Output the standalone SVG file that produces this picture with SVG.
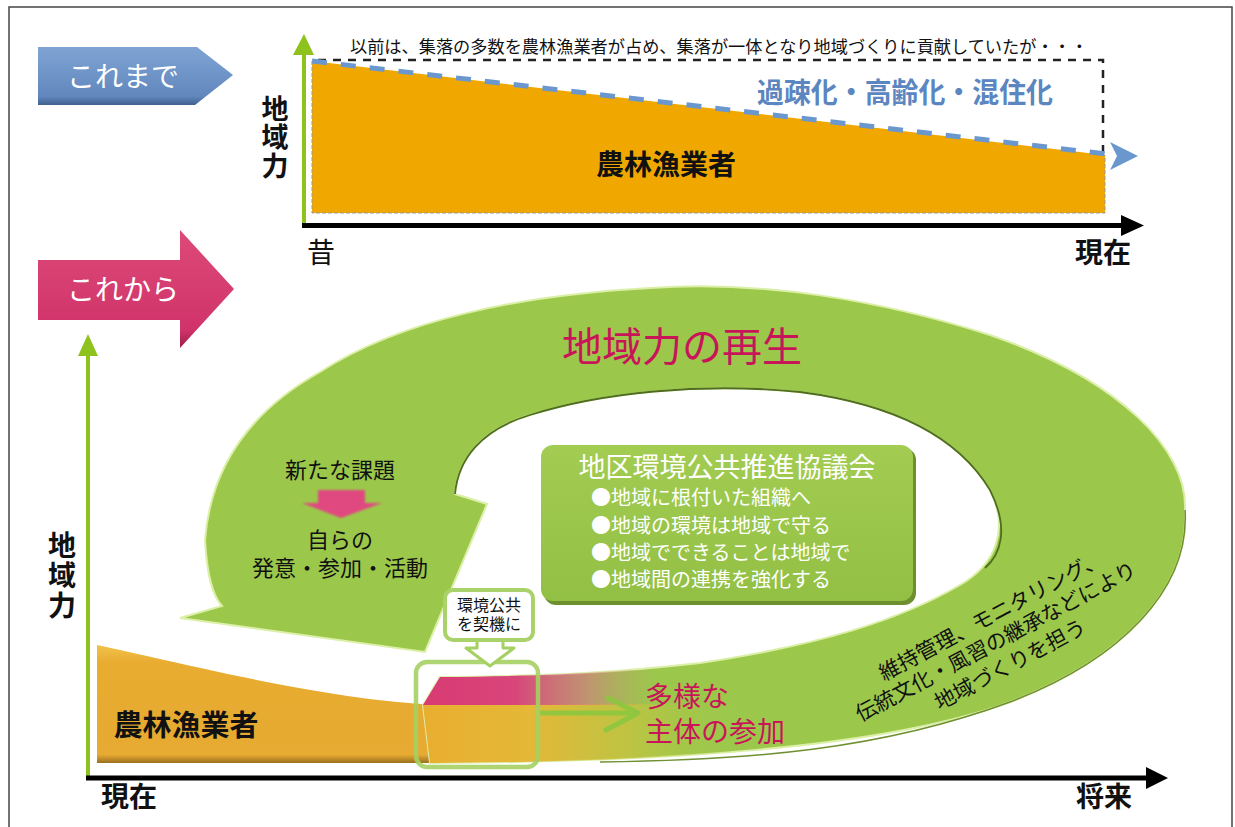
<svg xmlns="http://www.w3.org/2000/svg" width="1235" height="827" viewBox="0 0 1235 827">
<defs>
<style>
.jp{font-family:"Noto Sans CJK JP","Noto Sans CJK SC",sans-serif}
.b{font-weight:700}
.blk{fill:#111}
.wht{fill:#fff}
.mag{fill:#c8155a}
.vt{writing-mode:vertical-rl}
</style>
<linearGradient id="gBlue" x1="0" y1="0" x2="0" y2="1">
<stop offset="0" stop-color="#7fa4d3"/><stop offset="0.85" stop-color="#6287be"/><stop offset="1" stop-color="#3f628f"/>
</linearGradient>
<linearGradient id="gPink" x1="0" y1="0" x2="0" y2="1">
<stop offset="0" stop-color="#dd4a78"/><stop offset="0.85" stop-color="#d0336a"/><stop offset="1" stop-color="#9a2048"/>
</linearGradient>
<linearGradient id="gOrange" x1="0" y1="0" x2="0" y2="1">
<stop offset="0" stop-color="#f2c24a"/><stop offset="0.15" stop-color="#e8ac30"/><stop offset="0.93" stop-color="#e7aa32"/><stop offset="1" stop-color="#9a7020"/>
</linearGradient>
<linearGradient id="gYel" gradientUnits="userSpaceOnUse" x1="420" y1="0" x2="740" y2="0">
<stop offset="0" stop-color="#e9ae30"/><stop offset="0.35" stop-color="#e4b838"/><stop offset="0.65" stop-color="#c8c240" stop-opacity="0.8"/><stop offset="1" stop-color="#9cc84a" stop-opacity="0"/>
</linearGradient>
<linearGradient id="gPk" gradientUnits="userSpaceOnUse" x1="420" y1="0" x2="660" y2="0">
<stop offset="0" stop-color="#d83a72"/><stop offset="0.4" stop-color="#d8467a"/><stop offset="0.7" stop-color="#d8708a" stop-opacity="0.6"/><stop offset="1" stop-color="#c0a070" stop-opacity="0"/>
</linearGradient>
<linearGradient id="gBox" x1="0" y1="0" x2="0" y2="1">
<stop offset="0" stop-color="#a2cc52"/><stop offset="1" stop-color="#92c044"/>
</linearGradient>
<clipPath id="bandClip">
<path d="M430,763 C650,762 880,750 1010,702 C1120,660 1190,590 1185,510 L990,490 C1010,530 995,565 960,585 C900,620 820,645 700,663 C620,672 560,676 440,677 L423,705 Z"/>
</clipPath>
<filter id="soft" x="-10%" y="-10%" width="120%" height="120%"><feGaussianBlur stdDeviation="1"/></filter>
</defs>

<rect width="1235" height="827" fill="#fff"/>
<path d="M9,830 V7 H1232 V830" fill="none" stroke="#444" stroke-width="1.5"/>

<!-- Top section -->
<g id="korematde">
<path d="M38,47 H197 L233,75 L195,105 H38 Z" fill="url(#gBlue)"/>
<text class="jp wht" x="123" y="87" font-size="28" text-anchor="middle">これまで</text>
</g>

<g id="top-chart">
<path d="M312,61 L1105,155 V213 H312 Z" fill="#f0a800"/>
<path d="M312,61 V213 H1105 V155" fill="none" stroke="#999" stroke-width="1" stroke-dasharray="4,2"/>
<path d="M318,60 H1103 V158" fill="none" stroke="#222" stroke-width="2.5" stroke-dasharray="8,7"/>
<line x1="312" y1="61" x2="1115" y2="155" stroke="#6b97cf" stroke-width="5" stroke-dasharray="15,14"/>
<path d="M1110,142 L1138,156 L1110,170 L1117,156 Z" fill="#6b97cf"/>
<text class="jp blk" x="350" y="53" font-size="17" textLength="738" lengthAdjust="spacingAndGlyphs">以前は、集落の多数を農林漁業者が占め、集落が一体となり地域づくりに貢献していたが・・・</text>
<text class="jp b" x="757" y="103" font-size="28" fill="#5b86c0" textLength="296" lengthAdjust="spacingAndGlyphs">過疎化・高齢化・混住化</text>
<text class="jp b blk" x="666" y="175" font-size="28" text-anchor="middle">農林漁業者</text>
</g>

<g id="top-axes">
<line x1="304" y1="228" x2="304" y2="52" stroke="#8dc21f" stroke-width="4"/>
<path d="M293,55 L304,34 L314,55 Z" fill="#8dc21f"/>
<line x1="302" y1="225.5" x2="1125" y2="225.5" stroke="#000" stroke-width="5"/>
<path d="M1121,215 L1144,225.5 L1121,236 Z" fill="#000"/>
<text class="jp b blk vt" x="275" y="95" font-size="27" letter-spacing="1.5">地域力</text>
<text class="jp blk" x="321" y="263" font-size="28" text-anchor="middle">昔</text>
<text class="jp b blk" x="1103" y="263" font-size="28" text-anchor="middle">現在</text>
</g>

<!-- Bottom section -->
<g id="korekara">
<path d="M38,260 H180 V230 L234,289 L180,348 V320 H38 Z" fill="url(#gPink)"/>
<text class="jp wht" x="123" y="300" font-size="28" text-anchor="middle">これから</text>
</g>

<g id="base-orange">
<path d="M97,645 C170,660 320,700 440,705 L440,763 L97,763 Z" fill="url(#gOrange)"/>
<text class="jp b blk" x="186" y="736" font-size="29" text-anchor="middle">農林漁業者</text>
</g>

<g id="loop">
<path d="M430,763 C650,762 880,750 1010,702 C1120,660 1190,590 1185,510 C1188,450 1120,380 990,335 C880,300 760,280 650,288 C520,295 400,320 320,372 C270,400 212,450 205,540 C207,575 212,595 222,606 L180,618 L425,652 L487,504 L455,494 C458,460 480,430 530,415 C600,393 700,382 800,392 C900,405 960,440 990,490 C1010,530 995,565 960,585 C900,620 820,645 700,663 C620,672 560,676 440,677 L423,705 Z" fill="#9bc84b" stroke="#dcefa8" stroke-width="2"/>
<path d="M455,494 C458,460 480,430 530,415 C600,393 700,382 800,392 C900,405 960,440 990,490 C1010,530 1000,555 985,568" fill="none" stroke="#4f6d1e" stroke-width="1.8"/>
<path d="M600,762 C750,760 880,750 1010,702 C1120,660 1190,590 1185,510" fill="none" stroke="#6f8f30" stroke-width="1.5"/>
<g clip-path="url(#bandClip)">
<rect x="415" y="704" width="340" height="70" fill="url(#gYel)"/>
<rect x="415" y="670" width="260" height="35" fill="url(#gPk)"/>
</g>
<text class="jp mag" x="682" y="361" font-size="40" text-anchor="middle">地域力の再生</text>
<text class="jp blk" x="340" y="478" font-size="22" text-anchor="middle">新たな課題</text>
<path d="M318,490 H365 V503 H382 L341,518 L302,503 H318 Z" fill="#e04880" filter="url(#soft)"/>
<text class="jp blk" font-size="22" text-anchor="middle"><tspan x="340" y="548">自らの</tspan><tspan x="340" y="576">発意・参加・活動</tspan></text>
<text class="jp blk" font-size="21" text-anchor="middle" transform="translate(996,642) rotate(-28)"><tspan x="8" y="-18">維持管理、モニタリング、</tspan><tspan x="0" y="7">伝統文化・風習の継承などにより</tspan><tspan x="2" y="34">地域づくりを担う</tspan></text>
</g>

<g id="participation">
<path d="M540,713 H634 M606,697 L638,713 L604,731" fill="none" stroke="#8cc63f" stroke-width="5" stroke-linejoin="round" opacity="0.9"/>
<text class="jp mag" font-size="28"><tspan x="645" y="707">多様な</tspan><tspan x="645" y="742">主体の参加</tspan></text>
</g>

<g id="highlight">
<rect x="416" y="662" width="122" height="105" rx="11" fill="none" stroke="#a5d062" stroke-width="4.5" opacity="0.9"/>
</g>

<g id="callout">
<path d="M477,640 V648 H466 L490,666 L514,648 H503 V640" fill="#fff" stroke="#a5d062" stroke-width="3" stroke-linejoin="round"/>
<rect x="445" y="590" width="88" height="50" rx="8" fill="#fff" stroke="#a9d26a" stroke-width="4"/>
<text class="jp blk" font-size="16" text-anchor="middle"><tspan x="489" y="611">環境公共</tspan><tspan x="489" y="630">を契機に</tspan></text>
</g>

<g id="council">
<rect x="544" y="448" width="372" height="157" rx="12" fill="#6d8f2d"/>
<rect x="541" y="445" width="372" height="156" rx="12" fill="url(#gBox)"/>
<text class="jp wht" x="727" y="477" font-size="27" text-anchor="middle">地区環境公共推進協議会</text>
<text class="jp wht" font-size="20"><tspan x="591" y="505">●地域に根付いた組織へ</tspan><tspan x="591" y="533">●地域の環境は地域で守る</tspan><tspan x="591" y="560">●地域でできることは地域で</tspan><tspan x="591" y="587">●地域間の連携を強化する</tspan></text>
</g>

<g id="bottom-axes">
<line x1="88" y1="780" x2="88" y2="352" stroke="#8dc21f" stroke-width="4"/>
<path d="M78,356 L88,334 L98,356 Z" fill="#8dc21f"/>
<line x1="86" y1="778" x2="1150" y2="778" stroke="#000" stroke-width="5"/>
<path d="M1146,767 L1168,778 L1146,789 Z" fill="#000"/>
<text class="jp b blk vt" x="62" y="531" font-size="28" letter-spacing="2">地域力</text>
<text class="jp b blk" x="129" y="807" font-size="28" text-anchor="middle">現在</text>
<text class="jp b blk" x="1104" y="807" font-size="28" text-anchor="middle">将来</text>
</g>
</svg>
